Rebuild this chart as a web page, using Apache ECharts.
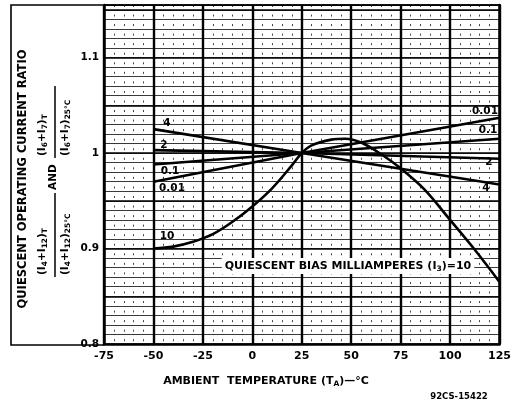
<!DOCTYPE html>
<html><head><meta charset="utf-8">
<script src="https://cdn.jsdelivr.net/npm/echarts@6/dist/echarts.min.js"></script>
<style>html,body{margin:0;padding:0;background:#fff}#c{width:514px;height:404px}</style>
</head><body><div id="c"></div>
<script>
// ---- data ----
const lineTemps = [-50, 25, 125];
const bias4   = [1.025, 1.000, 0.967];
const bias2   = [1.003, 1.000, 0.994];
const bias01  = [0.988, 1.000, 1.015];
const bias001 = [0.970, 1.000, 1.037];
const curveTemps = [-50, -40, -30, -20, -10, 0, 10, 20, 25, 30, 40, 47, 55, 65, 75, 87, 100, 112, 125];
const bias10     = [0.900, 0.902, 0.907, 0.915, 0.928, 0.944, 0.963, 0.987, 1.000, 1.008, 1.014, 1.015, 1.011, 0.999, 0.984, 0.962, 0.930, 0.900, 0.865];
const xTickLabels = [-75, -50, -25, 0, 25, 50, 75, 100, 125];
const yTickLabels = [0.8, 0.9, 1, 1.1];

const FONT = 'DejaVu Sans';
const pair = (xs, ys) => xs.map((x, i) => [x, ys[i]]);
const lineSeries = (name, xs, ys, smooth) => ({
  name, type: 'line', xAxisIndex: 0, yAxisIndex: 0, data: pair(xs, ys),
  showSymbol: false, symbol: 'none', smooth: smooth ? 0.35 : false,
  lineStyle: { color: '#000', width: 2.6 }, silent: true, z: 5
});

const subRich = {
  s: { fontFamily: FONT, fontWeight: 'bold', fontSize: 7.5, verticalAlign: 'bottom', lineHeight: 9, fill: '#000' }
};
function rtext(u, v, text, opts) {
  return {
    type: 'text', x: u, y: v,
    style: Object.assign({
      text, fill: '#000', fontFamily: FONT, fontWeight: 'bold', fontSize: 10.5,
      lineHeight: 15, align: 'left', verticalAlign: 'middle', rich: subRich
    }, opts || {})
  };
}
function ptext(x, y, text, size, align) {
  return {
    type: 'text', x, y, z: 20,
    style: { text, fill: '#000', fontFamily: FONT, fontWeight: 'bold', fontSize: size || 10.5,
      align: align || 'center', verticalAlign: 'middle', lineHeight: 14, rich: subRich }
  };
}

const chart = echarts.init(document.getElementById('c'), null, { renderer: 'canvas' });
chart.setOption({
  animation: false,
  backgroundColor: '#fff',
  grid: { left: 104, right: 13, top: 5, bottom: 60 },
  xAxis: [
    { type: 'value', min: -75, max: 125, interval: 25,
      axisLine: { show: true, onZero: false, lineStyle: { color: '#000', width: 2.5 } },
      axisTick: { show: false },
      axisLabel: { color: '#000', fontFamily: FONT, fontWeight: 'bold', fontSize: 11, margin: 7,
        formatter: v => xTickLabels.includes(v) ? String(v) : '' },
      splitLine: { show: true, lineStyle: { color: '#000', width: 2.4 } }, z: 3 },
    { type: 'value', min: -75, max: 125, interval: 5, position: 'bottom',
      axisLine: { show: false }, axisTick: { show: false }, axisLabel: { show: false },
      splitLine: { show: true, lineStyle: { color: '#444', width: 1, type: [2, 7.55] } }, z: 1 }
  ],
  yAxis: [
    { type: 'value', min: 0.8, max: 1.155, interval: 0.01,
      axisLine: { show: true, onZero: false, lineStyle: { color: '#000', width: 2.5 } },
      axisTick: { show: false },
      axisLabel: { color: '#000', fontFamily: FONT, fontWeight: 'bold', fontSize: 10.5, margin: 5,
        formatter: v => { const r = Math.round(v * 100) / 100; return yTickLabels.some(t => Math.abs(t - r) < 1e-6) ? String(r) : ''; } },
      splitLine: { show: true, lineStyle: { color: '#222', width: 0.9 } }, z: 2 },
    { type: 'value', min: 0.8, max: 1.155, interval: 0.05, position: 'right',
      axisLine: { show: true, onZero: false, lineStyle: { color: '#000', width: 2.5 } },
      axisTick: { show: false }, axisLabel: { show: false },
      splitLine: { show: true, lineStyle: { color: '#000', width: 1.5 } }, z: 2 }
  ],
  series: [
    lineSeries('4', lineTemps, bias4),
    lineSeries('2', lineTemps, bias2),
    lineSeries('0.1', lineTemps, bias01),
    lineSeries('0.01', lineTemps, bias001),
    lineSeries('10', curveTemps, bias10, true)
  ],
  graphic: [
    { type: 'polyline', z: 10, shape: { points: [[104, 5], [11, 5], [11, 345], [104, 345]] },
      style: { fill: null, stroke: '#000', lineWidth: 1.6 } },
    { type: 'line', z: 10, shape: { x1: 104, y1: 5, x2: 501, y2: 5 }, style: { stroke: '#000', lineWidth: 1.6 } },
    // rotated y-axis title (local u = 404 - screenY, v = screenX)
    { type: 'group', x: 0, y: 404, rotation: Math.PI / 2, z: 10, children: [
      rtext(225, 23, 'QUIESCENT OPERATING CURRENT RATIO', { align: 'center', fontSize: 11.5 }),
      rtext(129, 42, '(I{s|4}+I{s|12}){s|T}'),
      { type: 'line', shape: { x1: 127, y1: 55, x2: 211, y2: 55 }, style: { stroke: '#000', lineWidth: 1.5 } },
      rtext(129, 65, '(I{s|4}+I{s|12}){s|25°C}'),
      rtext(214, 53, 'AND'),
      rtext(248, 42, '(I{s|6}+I{s|7}){s|T}'),
      { type: 'line', shape: { x1: 246, y1: 55, x2: 318, y2: 55 }, style: { stroke: '#000', lineWidth: 1.5 } },
      rtext(248, 65, '(I{s|6}+I{s|7}){s|25°C}')
    ] },
    // curve labels
    ptext(167, 123, '4'), ptext(486, 188, '4'),
    ptext(164, 145, '2'), ptext(489, 162, '2'),
    ptext(170, 171, '0.1'), ptext(488, 130, '0.1'),
    ptext(172, 188, '0.01'), ptext(485, 111, '0.01'),
    ptext(167, 236, '10'),
    { type: 'text', x: 348, y: 266, z: 20,
      style: { text: 'QUIESCENT BIAS MILLIAMPERES (I{s|3})=10', fill: '#000', fontFamily: FONT, fontWeight: 'bold',
        fontSize: 11, align: 'center', verticalAlign: 'middle', lineHeight: 14, backgroundColor: '#fff',
        padding: [1, 3, 1, 3], rich: subRich } },
    { type: 'text', x: 266, y: 381, z: 20,
      style: { text: 'AMBIENT  TEMPERATURE (T{s|A})—°C', fill: '#000', fontFamily: FONT, fontWeight: 'bold',
        fontSize: 11, align: 'center', verticalAlign: 'middle', lineHeight: 14, rich: subRich } },
    ptext(459, 397, '92CS-15422', 8.5)
  ]
});
</script></body></html>
